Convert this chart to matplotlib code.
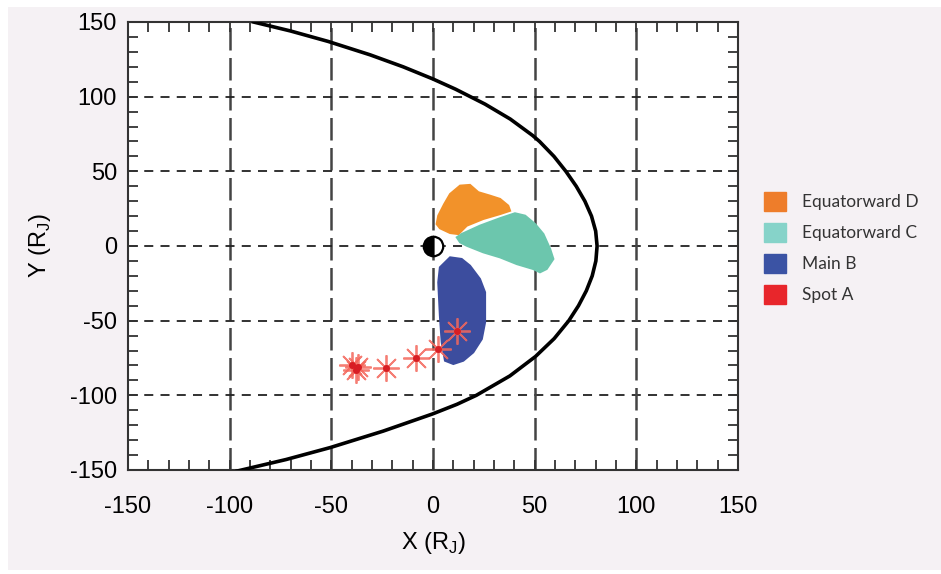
from matplotlib import pyplot as plt
from matplotlib.patches import Patch, Rectangle, Polygon
from matplotlib.ticker import MultipleLocator
import numpy as np

# magnetopause boundary (X, Y in R_J)
mp_x = [-88.3, -70.1, -51.6, -30.9, -14.7, -0.3, 11.1, 25.6, 38.0, 49.0, 52.4, 59.5, 65.35, 70.45, 74.7, 77.95, 80.0,
        80.7,
        80.1, 78.3, 75.4, 71.55, 66.8, 59.6, 50.4, 37.8, 21.3, 11.8, -0.3, -24.6, -50.6, -72.3, -96.3]
mp_y = [150, 144, 137, 128, 120, 112, 105, 95, 85, 74, 70, 60, 50, 40, 30, 20, 10,
        0,
        -10, -20, -30, -40, -50, -62, -74, -87, -100, -106, -112.5, -124, -135, -143, -150.7]

# region outlines
d_x = [1.8, 2.6, 5.5, 8.4, 13.3, 18.2, 22.3, 28, 33, 37, 37.9, 33, 24.7, 16.6, 12.5, 8.4, 3.4]
d_y = [14.7, 20.3, 28, 34.8, 40.4, 40.9, 36, 33.7, 31.5, 27, 23.6, 21.4, 18.1, 13.6, 8, 8.7, 11.9]

c_x = [11.7, 14.1, 23.1, 33, 40.3, 45.3, 50.2, 54.3, 57.6, 59.2, 55.9, 52.6, 49.3, 41.2, 33, 24.7, 16.6, 13.3]
c_y = [5.8, 8.0, 13.6, 18.6, 21.9, 20.3, 14.7, 8.0, -2.0, -8.7, -15.4, -17.6, -15.4, -12.1, -7.6, -4.2, 0.2, 2.5]

b_x = [8.4, 3.4, 2.6, 3.4, 4.3, 5.9, 10, 14.9, 19.8, 24, 25.6, 25.6, 23.1, 18.2, 14.1]
b_y = [-7.6, -14.3, -24.3, -46.7, -64.5, -76.8, -79, -76.8, -71.2, -62.3, -51.1, -31, -22.1, -13.2, -8.7]

# spot A positions
a_x = [-40, -38, -37, -23, -8.4, 2.6, 11.7]
a_y = [-80, -83, -81, -81.7, -75.2, -69, -56.7]

labels = ["Equatorward D", "Equatorward C", "Main B", "Spot A"]
colors = ["#ee7d2a", "#86d3c9", "#3b53a4", "#e8262b"]
fill_colors = ["#f2922a", "#6cc6ad", "#3c4d9e"]

plt.rcParams['font.family'] = ['Liberation Sans Narrow', 'Liberation Sans', 'DejaVu Sans']
plt.rcParams['axes.unicode_minus'] = False

fig = plt.figure(figsize=(9.41, 5.74), dpi=100, facecolor="white")
fig.patches.append(Rectangle((8/941, 4/574), 933/941, 563/574, transform=fig.transFigure,
                             facecolor="#f5f1f4", edgecolor="none", zorder=-10))
ax = fig.add_axes([128/941, 1-470/574, 610/941, 448/574])
ax.set_facecolor("white")

for g in [-100, -50, 0, 50, 100]:
    ax.axvline(g, color="#444444", lw=1.8, dashes=(9, 3), zorder=1)
    ax.axhline(g, color="#222222", lw=1.3, dashes=(5, 4), zorder=1)

ax.add_patch(Polygon(np.column_stack([d_x, d_y]), closed=True, facecolor=fill_colors[0],
                     edgecolor=fill_colors[0], lw=1.5, zorder=2))
ax.add_patch(Polygon(np.column_stack([c_x, c_y]), closed=True, facecolor=fill_colors[1],
                     edgecolor=fill_colors[1], lw=1.5, zorder=2))
ax.add_patch(Polygon(np.column_stack([b_x, b_y]), closed=True, facecolor=fill_colors[2],
                     edgecolor=fill_colors[2], lw=1.5, zorder=2))

ax.plot(mp_x, mp_y, color="black", lw=2.6, zorder=3, solid_joinstyle="round")

ax.plot(a_x, a_y, ls="none", marker=(8, 2, 0), ms=19, mew=1.3, color="#f4685c", alpha=0.85, zorder=4)
ax.plot(a_x, a_y, ls="none", marker="o", ms=4, color="#d81e24", zorder=4)

# planet
ax.plot([0], [0], marker="o", ms=14, fillstyle="left", markerfacecolor="black",
        markerfacecoloralt="white", markeredgecolor="black", mew=1.6, zorder=5)

ax.set_xlim(-150, 150)
ax.set_ylim(-150, 150)
ax.xaxis.set_major_locator(MultipleLocator(50))
ax.yaxis.set_major_locator(MultipleLocator(50))
ax.xaxis.set_minor_locator(MultipleLocator(10))
ax.yaxis.set_minor_locator(MultipleLocator(10))
ax.tick_params(which="both", direction="in", top=True, right=True, color="#333333", width=1.3)
ax.tick_params(which="major", length=7, labelsize=17)
ax.tick_params(which="minor", length=7)
ax.tick_params(axis="x", pad=19)
ax.tick_params(axis="y", pad=8)
for s in ax.spines.values():
    s.set_linewidth(1.5)
    s.set_color("#333333")

ax.set_xlabel("X (R$_\\mathregular{J}$)", fontsize=17, labelpad=8)
ax.set_ylabel("Y (R$_\\mathregular{J}$)", fontsize=17, labelpad=12)

handles = [Patch(facecolor=c, edgecolor=c) for c in colors]
fig.legend(handles, labels, loc="upper left", bbox_to_anchor=(748/941, 1-176/574),
           frameon=False, prop={"family": "Lato", "size": 12.5}, handlelength=1.3,
           handleheight=1.3, handletextpad=0.9, labelspacing=0.7, labelcolor="#333333")

fig.savefig("out.png", dpi=100, facecolor="white")
